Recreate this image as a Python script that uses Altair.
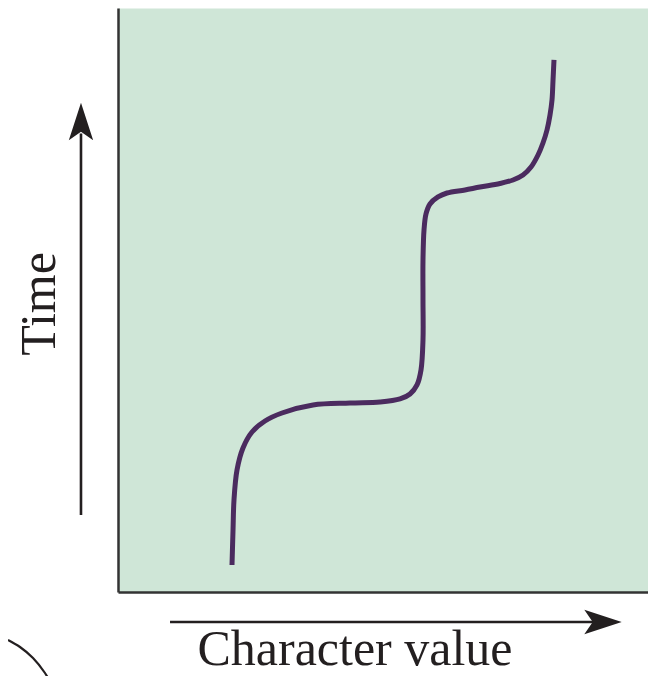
import altair as alt
import pandas as pd

# Curve (character value vs time), in data units
curve_x = [21.19, 21.38, 21.56, 22.12, 23.23, 24.91, 27.32, 30.48, 36.25, 43.12, 48.70,
           52.42, 54.28, 55.58, 56.32, 56.69, 56.69, 56.69, 56.88, 57.25, 57.99, 59.48,
           61.15, 64.50, 67.29, 71.00, 73.42, 75.28, 76.77, 78.07, 78.99, 79.74, 80.30,
           80.67, 80.86, 81.04]
curve_y = [4.62, 10.62, 15.75, 20.89, 24.66, 27.40, 29.28, 30.65, 32.02, 32.36, 32.53,
           33.05, 33.90, 35.45, 38.01, 43.15, 50.00, 56.85, 61.99, 64.73, 66.44, 67.64,
           68.32, 68.85, 69.35, 69.95, 70.55, 71.40, 72.77, 74.83, 76.88, 79.11, 81.68,
           84.25, 87.67, 91.10]

# Arrows (shaft start/end, head position)
arrow_time = {"x": -6.88, "y0": 13.18, "y1": 78.5, "head_y": 80.57}
arrow_char = {"y": -5.14, "x0": 9.67, "x1": 89.5, "head_x": 90.15}

# Partial arc at bottom left
arc_x = [-20.45, -18.22, -15.80, -13.57, -12.08]
arc_y = [-8.22, -9.42, -11.30, -13.87, -16.27]

labels = [
    {"text": "Time", "x": -11.71, "y": 49.32, "angle": 270},
    {"text": "Character value", "x": 44.05, "y": -12.5, "angle": 0},
]

xs = alt.Scale(domain=[0, 98.513], nice=False, zero=False)
ys = alt.Scale(domain=[0, 100], nice=False, zero=False)

ARROW = "M0,-1 L0.65,1 L0,0.55 L-0.65,1 Z"
INK = "#231f20"

curve_df = pd.DataFrame({"x": curve_x, "y": curve_y, "i": range(len(curve_x))})
curve = alt.Chart(curve_df).mark_line(
    color="#4b2b5f", strokeWidth=5, interpolate="catmull-rom", strokeCap="butt"
).encode(
    x=alt.X("x:Q", scale=xs, axis=alt.Axis(title=None, labels=False, ticks=False, grid=False,
                                           domainColor="#333333", domainWidth=2.5)),
    y=alt.Y("y:Q", scale=ys, axis=alt.Axis(title=None, labels=False, ticks=False, grid=False,
                                           domainColor="#333333", domainWidth=2.5)),
    order="i:O",
)

shaft_df = pd.DataFrame([
    {"x": arrow_time["x"], "x2": arrow_time["x"], "y": arrow_time["y0"], "y2": arrow_time["y1"]},
    {"x": arrow_char["x0"], "x2": arrow_char["x1"], "y": arrow_char["y"], "y2": arrow_char["y"]},
])
shafts = alt.Chart(shaft_df).mark_rule(color=INK, strokeWidth=2.6).encode(
    x=alt.X("x:Q", scale=xs), x2="x2:Q", y=alt.Y("y:Q", scale=ys), y2="y2:Q"
)

head_df = pd.DataFrame([
    {"x": arrow_time["x"], "y": arrow_time["head_y"], "a": 0},
    {"x": arrow_char["head_x"], "y": arrow_char["y"], "a": 90},
])
heads = alt.Chart(head_df).mark_point(
    shape=ARROW, filled=True, size=1400, color=INK, opacity=1
).encode(
    x=alt.X("x:Q", scale=xs), y=alt.Y("y:Q", scale=ys), angle=alt.Angle("a:Q", scale=None)
)

arc_df = pd.DataFrame({"x": arc_x, "y": arc_y, "i": range(len(arc_x))})
arc = alt.Chart(arc_df).mark_line(color=INK, strokeWidth=2.2, interpolate="catmull-rom").encode(
    x=alt.X("x:Q", scale=xs), y=alt.Y("y:Q", scale=ys), order="i:O"
)

lab_df = pd.DataFrame(labels)
texts = alt.Chart(lab_df).mark_text(
    font="Liberation Serif", fontSize=50, color=INK, align="center", baseline="alphabetic"
).encode(
    x=alt.X("x:Q", scale=xs), y=alt.Y("y:Q", scale=ys), text="text:N",
    angle=alt.Angle("angle:Q", scale=None)
)

chart = alt.layer(curve, shafts, heads, arc, texts).properties(
    width=530, height=584,
    autosize=alt.AutoSizeParams(type="none"),
    padding={"left": 110, "top": 0, "right": 0, "bottom": 84},
).configure_view(fill="#cfe6d7", stroke="transparent")

chart.save("out.html", embed_options={"renderer": "svg", "actions": False})
